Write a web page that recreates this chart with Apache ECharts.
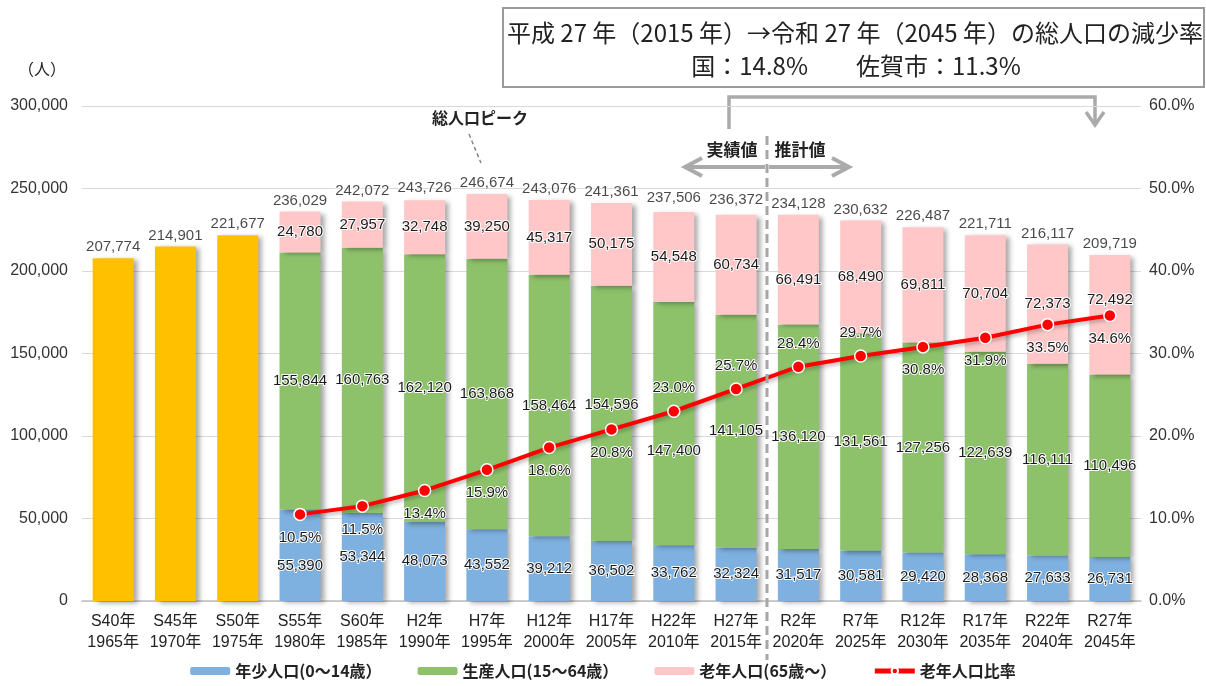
<!DOCTYPE html>
<html>
<head>
<meta charset="utf-8">
<script src="https://cdn.jsdelivr.net/npm/echarts@6/dist/echarts.min.js"></script>
<style>
html,body{margin:0;padding:0;background:#fff;}
#c{width:1206px;height:686px;}
</style>
</head>
<body>
<div id="c"></div>
<script>
const categories = ['S40年\n1965年','S45年\n1970年','S50年\n1975年','S55年\n1980年','S60年\n1985年','H2年\n1990年','H7年\n1995年','H12年\n2000年','H17年\n2005年','H22年\n2010年','H27年\n2015年','R2年\n2020年','R7年\n2025年','R12年\n2030年','R17年\n2035年','R22年\n2040年','R27年\n2045年'];
const totalPop = [207774,214901,221677,236029,242072,243726,246674,243076,241361,237506,236372,234128,230632,226487,221711,216117,209719];
const earlyTotal = [207774,214901,221677,null,null,null,null,null,null,null,null,null,null,null,null,null,null];
const youth = [null,null,null,55390,53344,48073,43552,39212,36502,33762,32324,31517,30581,29420,28368,27633,26731];
const working = [null,null,null,155844,160763,162120,163868,158464,154596,147400,141105,136120,131561,127256,122639,116111,110496];
const elderly = [null,null,null,24780,27957,32748,39250,45317,50175,54548,60734,66491,68490,69811,70704,72373,72492];
const elderlyRatio = [null,null,null,10.5,11.5,13.4,15.9,18.6,20.8,23.0,25.7,28.4,29.7,30.8,31.9,33.5,34.6];
const leftTicks = [0,50000,100000,150000,200000,250000,300000];
const rightTicks = [0,10,20,30,40,50,60];

const FONT = "'Liberation Sans','Noto Sans CJK JP',sans-serif";
const JFONT = "'Noto Sans CJK JP','Liberation Sans',sans-serif";
const fmt = v => v.toLocaleString('en-US');

// label style tweaks (index -> pixel offset)
const youthOffsets = {3:[0,11]};
const workingOffsets = {8:[0,-8],9:[0,27]};
const elderlyOffsets = {11:[0,10],16:[0,-15]};
const ratioAbove = {9:1,10:1,11:1,12:1};

const haloLabel = {fontFamily: FONT, fontSize: 15, color: '#1a1a1a', textBorderColor: '#fff', textBorderWidth: 2};
const barShadow = {shadowColor:'rgba(0,0,0,0.35)', shadowBlur:5, shadowOffsetX:4, shadowOffsetY:2};

function mkData(arr, offsets){
  return arr.map((v,i)=>{
    if (v==null) return null;
    const o = {value:v};
    if (offsets[i]) o.label = {offset: offsets[i]};
    return o;
  });
}

const chart = echarts.init(document.getElementById('c'));
const option = {
  animation:false,
  backgroundColor:'#fff',
  grid:{left:82, right:65, top:106, bottom:85},
  legend:{
    data:['年少人口(0～14歳）','生産人口(15～64歳）','老年人口(65歳～）','老年人口比率'],
    bottom:2, left:'center',
    itemWidth:40, itemHeight:8, itemGap:36,
    lineStyle:{width:5},
    textStyle:{fontFamily:JFONT, fontSize:16, color:'#222', fontWeight:'bold'}
  },
  xAxis:{
    type:'category', data:categories,
    axisTick:{show:false},
    axisLine:{lineStyle:{color:'#bfbfbf', width:1.5}},
    axisLabel:{fontFamily:FONT, fontSize:16, color:'#222', lineHeight:21, margin:10, interval:0}
  },
  yAxis:[
    {type:'value', min:leftTicks[0], max:leftTicks[leftTicks.length-1], interval:leftTicks[1]-leftTicks[0],
     axisLine:{show:false}, axisTick:{show:false},
     splitLine:{lineStyle:{color:'#d9d9d9', width:1.2}},
     axisLabel:{fontFamily:FONT, fontSize:16, color:'#333', margin:14, formatter:v=>fmt(v)}},
    {type:'value', min:rightTicks[0], max:rightTicks[rightTicks.length-1], interval:rightTicks[1]-rightTicks[0],
     axisLine:{show:false}, axisTick:{show:false}, splitLine:{show:false},
     axisLabel:{fontFamily:FONT, fontSize:16, color:'#333', margin:8, formatter:v=>v.toFixed(1)+'%'}}
  ],
  series:[
    {name:'総人口', type:'bar', stack:'pop', data:earlyTotal, barWidth:41,
     itemStyle:Object.assign({color:'#FFC000'}, barShadow)},
    {name:'年少人口(0～14歳）', type:'bar', stack:'pop', data:mkData(youth,youthOffsets), barWidth:41,
     itemStyle:Object.assign({color:'#7EB0E0'}, barShadow),
     label:Object.assign({show:true, position:'inside', formatter:p=>fmt(p.value)}, haloLabel)},
    {name:'生産人口(15～64歳）', type:'bar', stack:'pop', data:mkData(working,workingOffsets), barWidth:41,
     itemStyle:Object.assign({color:'#8DC26B'}, barShadow),
     label:Object.assign({show:true, position:'inside', formatter:p=>fmt(p.value)}, haloLabel)},
    {name:'老年人口(65歳～）', type:'bar', stack:'pop', data:mkData(elderly,elderlyOffsets), barWidth:41,
     itemStyle:Object.assign({color:'#FFC7C8'}, barShadow),
     label:Object.assign({show:true, position:'inside', formatter:p=>fmt(p.value)}, haloLabel)},
    {name:'総人口ラベル', type:'scatter', data:totalPop, symbolSize:1, silent:true,
     itemStyle:{color:'rgba(0,0,0,0)'}, z:5,
     label:Object.assign({show:true, position:'top', distance:3, formatter:p=>fmt(p.value)}, haloLabel)},
    {name:'老年人口比率', type:'line', yAxisIndex:1, z:10,
     data:elderlyRatio.map((v,i)=>{
       if (v==null) return null;
       return {value:v, label:{position: ratioAbove[i] ? 'top':'bottom'}};
     }),
     symbol:'circle', symbolSize:12,
     lineStyle:{color:'#FF0000', width:4, shadowColor:'rgba(0,0,0,0.3)', shadowBlur:4, shadowOffsetX:2, shadowOffsetY:2},
     itemStyle:{color:'#FF0000', borderColor:'#fff', borderWidth:1.5},
     label:Object.assign({show:true, distance:9, formatter:p=>p.value.toFixed(1)+'%'}, haloLabel)}
  ],
  graphic:[
    {type:'text', left:18, top:61, style:{text:'（人）', font:"16px "+JFONT, fill:'#222'}},
    {type:'rect', shape:{x:503, y:8, width:701, height:79}, style:{fill:'#fff', stroke:'#9a9a9a', lineWidth:2}},
    {type:'text', x:855, y:33, style:{text:'平成 27 年（2015 年）→令和 27 年（2045 年）の総人口の減少率', font:"24px "+JFONT, fill:'#222', textAlign:'center', textVerticalAlign:'middle'}},
    {type:'text', x:856, y:66, style:{text:'国：14.8%　　佐賀市：11.3%', font:"24px "+JFONT, fill:'#222', textAlign:'center', textVerticalAlign:'middle'}},
    {type:'text', x:480, y:118, style:{text:'総人口ピーク', font:"bold 16px "+JFONT, fill:'#222', textAlign:'center', textVerticalAlign:'middle'}},
    {type:'line', shape:{x1:469, y1:134, x2:481, y2:163}, style:{stroke:'#888', lineWidth:1.5, lineDash:[4,3]}},
    {type:'text', x:732, y:150, style:{text:'実績値', font:"bold 17px "+JFONT, fill:'#222', textAlign:'center', textVerticalAlign:'middle'}},
    {type:'text', x:800, y:150, style:{text:'推計値', font:"bold 17px "+JFONT, fill:'#222', textAlign:'center', textVerticalAlign:'middle'}},
    {type:'line', shape:{x1:767, y1:136, x2:767, y2:660}, style:{stroke:'#a6a6a6', lineWidth:3, lineDash:[9,5]}, z:20},
    {type:'line', shape:{x1:765, y1:167, x2:686, y2:167}, style:{stroke:'#aaa', lineWidth:4}},
    {type:'polyline', shape:{points:[[702,158],[685,167],[702,176]]}, style:{stroke:'#aaa', lineWidth:4, fill:null}},
    {type:'line', shape:{x1:769, y1:167, x2:848, y2:167}, style:{stroke:'#aaa', lineWidth:4}},
    {type:'polyline', shape:{points:[[832,158],[849,167],[832,176]]}, style:{stroke:'#aaa', lineWidth:4, fill:null}},
    {type:'polyline', shape:{points:[[729,129],[729,97],[1095,97],[1095,124]]}, style:{stroke:'#aaa', lineWidth:3.5, fill:null}},
    {type:'polyline', shape:{points:[[1086,112],[1095,125],[1104,112]]}, style:{stroke:'#aaa', lineWidth:3.5, fill:null}}
  ]
};
chart.setOption(option);
</script>
</body>
</html>
